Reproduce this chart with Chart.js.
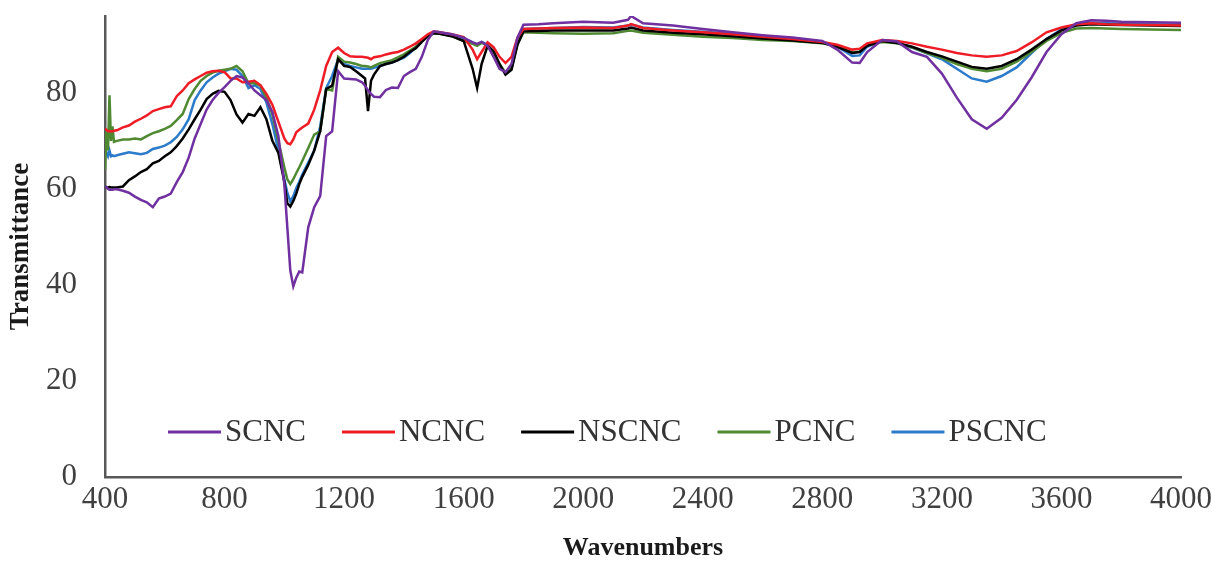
<!DOCTYPE html>
<html>
<head>
<meta charset="utf-8">
<title>FTIR transmittance</title>
<script src="https://cdn.jsdelivr.net/npm/chart.js@4.4.1/dist/chart.umd.min.js"></script>
<style>
  html, body { margin: 0; padding: 0; background: #fff; }
  #wrap { width: 1217px; height: 561px; }
</style>
</head>
<body>
<div id="wrap"><canvas id="ftirChart" width="1217" height="561"></canvas></div>
<script>
// Wavenumber grid (cm-1) shared by all spectra
const wavenumbers = [
  400, 405, 410, 415, 420, 425, 430, 440, 460, 480,
  500, 520, 540, 560, 580, 600, 620, 640, 660, 680,
  700, 720, 740, 760, 780, 800, 820, 840, 860, 880,
  900, 920, 940, 960, 980, 1000, 1010, 1020, 1030, 1040,
  1050, 1060, 1080, 1100, 1120, 1140, 1160, 1180, 1200, 1220,
  1240, 1260, 1270, 1280, 1290, 1300, 1320, 1340, 1360, 1380,
  1400, 1420, 1440, 1460, 1480, 1500, 1520, 1560, 1600, 1630,
  1645, 1660, 1680, 1700, 1720, 1740, 1760, 1780, 1800, 1850,
  1900, 2000, 2100, 2150, 2160, 2200, 2300, 2400, 2500, 2600,
  2700, 2800, 2850, 2900, 2925, 2950, 3000, 3050, 3100, 3150,
  3200, 3250, 3300, 3350, 3400, 3450, 3500, 3550, 3600, 3650,
  3700, 3750, 3800, 3900, 4000
];

const scnc = [
  60.5, 60.3, 60, 59.8, 59.8, 59.8, 59.9, 59.9, 59.6, 59.2,
  58.4, 57.7, 57.2, 56.2, 58, 58.4, 59, 61.4, 63.5, 66.5,
  70.5, 73.5, 76.5, 78.5, 80, 81.2, 82.5, 83.5, 83.2, 82,
  80.5, 79.5, 78.5, 76, 71, 61, 52, 43, 39.7, 41.5,
  42.8, 42.6, 52, 56.2, 58.5, 71, 72, 84.5, 83, 82.9,
  82.8, 82.2, 81.5, 80.5, 79.8, 79.2, 79.1, 80.6, 81.1, 81,
  83.5, 84.3, 85, 87.5, 91, 92.8, 92.6, 92.2, 91.5, 90.5,
  90.2, 90.6, 89.8, 87.5, 85, 84.3, 86, 91.5, 94.2, 94.3,
  94.5, 94.8, 94.6, 95.2, 96, 94.5, 94, 93.3, 92.6, 92,
  91.5, 90.8, 89, 86.3, 86.2, 88.5, 91, 90.7, 88.5, 87.5,
  84, 79, 74.5, 72.5, 74.8, 78.5, 83.2, 88.5, 92.2, 94.5,
  95.1, 95, 94.8, 94.7, 94.6
];

const ncnc = [
  72.5, 72.3, 72, 72, 72, 72, 72.1, 72.2, 72.8, 73.2,
  74, 74.6, 75.3, 76.2, 76.6, 77, 77.2, 79.3, 80.5, 82,
  82.8, 83.5, 84.2, 84.5, 84.6, 84.3, 83, 83, 82.2, 82.3,
  82.5, 81.6, 79.8, 77.5, 74, 70.5, 69.5, 69.3, 70.3, 71.8,
  72.3, 72.8, 73.6, 76.5, 80.5, 85.6, 88.5, 89.4, 88.3, 87.6,
  87.5, 87.5, 87.4, 87.3, 87, 87.4, 87.6, 88, 88.3, 88.5,
  89, 89.6, 90.3, 91.2, 92.2, 92.8, 92.6, 92.2, 91.6, 89,
  87, 88.5, 90.5, 89.5, 87.5, 86.2, 87.5, 91.5, 93.3, 93.4,
  93.5, 93.6, 93.5, 94, 94.3, 93.5, 93, 92.6, 92.2, 91.7,
  91.2, 90.6, 90, 89, 89.2, 90.3, 91, 90.8, 90.3, 89.6,
  89, 88.3, 87.8, 87.5, 87.8, 88.7, 90.5, 92.6, 93.6, 94.3,
  94.5, 94.3, 94.2, 94.1, 94
];

const nscnc = [
  60.5, 60.3, 60.3, 60.4, 60.3, 60.3, 60.3, 60.3, 60.5, 61.8,
  62.6, 63.5, 64.1, 65.3, 65.8, 66.8, 67.6, 68.9, 70.5, 72.4,
  74.5, 76.5, 78.7, 79.8, 80.4, 80.2, 78.5, 75.5, 73.8, 75.6,
  75.2, 77, 74.5, 70, 67.5, 61.5, 57, 56.3, 57.5, 59,
  61, 62.5, 65, 68, 72, 80.8, 81.5, 87, 85.6, 85.4,
  84.5, 83.5, 83, 76.2, 82.5, 83.8, 85.6, 86, 86.3, 86.8,
  87.5, 88.5, 89.3, 90.6, 91.8, 92.4, 92.3, 91.8, 90.8, 85,
  81, 86, 89.8, 88.7, 86, 83.8, 84.8, 90, 92.8, 92.9,
  93, 93, 93, 93.4, 93.6, 93, 92.5, 92.2, 91.8, 91.3,
  90.9, 90.4, 89.6, 88.3, 88.5, 89.8, 90.8, 90.4, 89.6, 88.5,
  87.6, 86.5, 85.4, 85, 85.6, 87, 89, 91.2, 93, 94,
  94.3, 94.2, 94.1, 94, 93.9
];

const pcnc = [
  64, 72, 68, 79.5, 70, 73, 69.8, 70, 70.3, 70.3,
  70.5, 70.3, 71, 71.6, 72, 72.5, 73.1, 74.3, 75.6, 78.7,
  80.8, 82.5, 83.5, 84.2, 84.6, 84.8, 85, 85.6, 84.5, 82,
  82, 81.5, 79, 75.5, 70, 64.5, 62, 61, 62, 63.3,
  64.5, 65.8, 68.5, 71.3, 72, 80.8, 80.5, 87.5, 86.5, 86.3,
  86, 85.6, 85.6, 85.5, 85.3, 85.6, 86.2, 86.5, 86.8, 87.4,
  88, 88.8, 89.6, 90.8, 91.8, 92.5, 92.3, 91.8, 90.8, 90.2,
  89.8, 90.4, 89.9, 88.3, 86, 84.2, 85.2, 90.2, 92.6, 92.5,
  92.4, 92.3, 92.4, 92.9, 93, 92.5, 92.1, 91.7, 91.4, 91,
  90.8, 90.3, 89.7, 88.4, 88.6, 89.9, 90.6, 90.3, 89.5, 88.3,
  87.3, 86, 85, 84.5, 85, 86.5, 88.5, 90.8, 92.5, 93.4,
  93.5, 93.4, 93.3, 93.2, 93.1
];

const pscnc = [
  69.5, 67.5, 66.8, 68, 66.8, 67, 66.8, 67, 67.3, 67.6,
  67.4, 67.2, 67.5, 68.3, 68.6, 69, 69.7, 70.8, 72.4, 74.5,
  78.5, 80.5, 82.2, 83.2, 84, 84.5, 85, 84.8, 83.5, 81,
  81.6, 80.8, 78, 73.5, 68, 62, 59.2, 57.4, 58.5, 60.2,
  61.5, 63, 65.5, 68, 73, 81, 83.5, 87, 86, 85.6,
  85.3, 85, 85, 85, 85, 85.2, 85.6, 86, 86.3, 86.8,
  87.3, 88.3, 89.5, 90.8, 91.9, 92.6, 92.5, 92.1, 91.3, 90.5,
  90, 90.6, 90, 88.2, 85.8, 83.9, 85, 90.5, 93.3, 93.4,
  93.5, 93.7, 93.6, 94, 94.2, 93.6, 93.1, 92.7, 92.3, 91.8,
  91.3, 90.6, 89.6, 87.7, 87.8, 89.6, 90.9, 90.4, 89.4, 88.2,
  87, 85, 83, 82.3, 83.5, 85.3, 88.3, 91.2, 93.2, 94.3,
  94.6, 94.5, 94.4, 94.3, 94.2
];

const seriesNames = ['SCNC', 'NCNC', 'NSCNC', 'PCNC', 'PSCNC'];
const seriesValues = [scnc, ncnc, nscnc, pcnc, pscnc];
const seriesColors = ['#7030A0', '#EE1C25', '#000000', '#4F8A32', '#2C7BCB'];

const xTicks = { min: 400, max: 4000, step: 400 };
const yTicks = { min: 0, max: 96, step: 20 };

const serif = "'Liberation Serif', 'Times New Roman', serif";

// legend drawn inside the plot, near the bottom, like the original figure
const insideLegend = {
  id: 'insideLegend',
  afterDatasetsDraw(chart) {
    const { ctx, chartArea } = chart;
    ctx.save();
    ctx.font = '31px ' + serif;
    ctx.textBaseline = 'middle';
    let x = chartArea.left + 63;
    const y = chartArea.bottom - 45;
    chart.data.datasets.forEach(ds => {
      ctx.strokeStyle = ds.borderColor;
      ctx.lineWidth = 3;
      ctx.beginPath();
      ctx.moveTo(x, y);
      ctx.lineTo(x + 53, y);
      ctx.stroke();
      ctx.fillStyle = '#333333';
      ctx.fillText(ds.label, x + 57, y + 1);
      x += 57 + ctx.measureText(ds.label).width + 36;
    });
    ctx.restore();
  }
};

const datasets = seriesNames.map((name, i) => ({
  label: name,
  data: wavenumbers.map((w, j) => ({ x: w, y: seriesValues[i][j] })),
  borderColor: seriesColors[i],
  backgroundColor: seriesColors[i],
  borderWidth: 2.5,
  pointRadius: 0,
  tension: 0,
  fill: false
}));

const ctx = document.getElementById('ftirChart').getContext('2d');
new Chart(ctx, {
  type: 'line',
  data: { datasets },
  options: {
    responsive: false,
    animation: false,
    layout: { padding: { top: 16, right: 36, left: 0, bottom: 0 } },
    plugins: {
      legend: { display: false },
      tooltip: { enabled: false }
    },
    scales: {
      x: {
        type: 'linear',
        min: xTicks.min,
        max: xTicks.max,
        grid: { display: false, drawTicks: false, tickLength: 0 },
        border: { display: true, color: '#595959', width: 2.5 },
        ticks: {
          stepSize: xTicks.step,
          autoSkip: false,
          maxRotation: 0,
          padding: 4,
          color: '#404040',
          font: { family: serif, size: 31 },
          callback: v => String(v)
        },
        title: {
          display: true,
          text: 'Wavenumbers',
          color: '#1a1a1a',
          font: { family: serif, size: 26, weight: 'bold', lineHeight: 1 },
          padding: { top: 0, bottom: 0 }
        },
        afterFit(scale) {
          scale.height = 84;
          scale.paddingLeft = 0;
          scale.paddingRight = 0;
        }
      },
      y: {
        min: yTicks.min,
        max: yTicks.max,
        grid: { display: false, drawTicks: false, tickLength: 0 },
        border: { display: true, color: '#595959', width: 2.5 },
        ticks: {
          stepSize: yTicks.step,
          includeBounds: false,
          padding: 28,
          color: '#404040',
          font: { family: serif, size: 31 }
        },
        title: {
          display: true,
          text: 'Transmittance',
          color: '#1a1a1a',
          font: { family: serif, size: 27, weight: 'bold', lineHeight: 1 },
          padding: { top: 8, bottom: 0 }
        },
        afterFit(scale) {
          scale.width = 105;
          scale.paddingTop = 0;
          scale.paddingBottom = 0;
        }
      }
    }
  },
  plugins: [insideLegend]
});
</script>
</body>
</html>
